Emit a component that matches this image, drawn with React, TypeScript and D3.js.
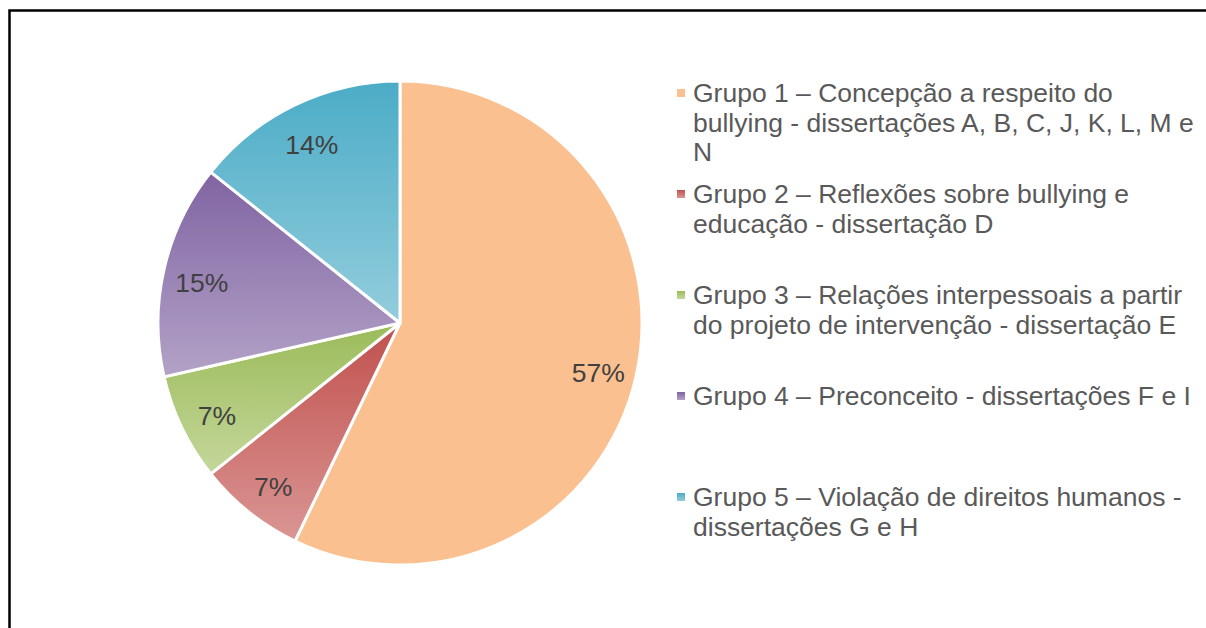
import { useEffect, useRef } from "react";
import * as d3 from "d3";

// número de dissertações por grupo (14 no total)
const groups = ["Grupo 1", "Grupo 2", "Grupo 3", "Grupo 4", "Grupo 5"];
const counts = [8, 1, 1, 2, 2];
const pctLabels = ["57%", "7%", "7%", "15%", "14%"];
const legendLines = [
  ["Grupo 1 – Concepção a respeito do", "bullying - dissertações A, B, C, J, K, L, M e", "N"],
  ["Grupo 2 – Reflexões sobre bullying e", "educação - dissertação D"],
  ["Grupo 3 – Relações interpessoais a partir", "do projeto de intervenção - dissertação E"],
  ["Grupo 4 – Preconceito - dissertações F e I"],
  ["Grupo 5 – Violação de direitos humanos -", "dissertações G e H"],
];
const topColors = ["#fac090", "#c0504d", "#9bbb59", "#8064a2", "#4bacc6"];
const bottomColors = ["#fac090", "#da9694", "#c4d79b", "#b3a2c7", "#93cddd"];

export default function App() {
  const ref = useRef<SVGSVGElement>(null);

  useEffect(() => {
    const svg = d3.select(ref.current);
    svg.selectAll("*").remove();

    const W = 1206, H = 628;
    const cx = 400, cy = 323, R = 242;
    const font = "'Liberation Sans', Arial, sans-serif";

    // moldura
    svg.append("path")
      .attr("d", `M9.5,${H} V10.5 H${W}`)
      .attr("fill", "none")
      .attr("stroke", "#000")
      .attr("stroke-width", 2.5);

    const defs = svg.append("defs");
    groups.forEach((g, i) => {
      const grad = defs.append("linearGradient")
        .attr("id", "grad" + i)
        .attr("x1", 0).attr("y1", 0).attr("x2", 0).attr("y2", 1);
      grad.append("stop").attr("offset", "0%").attr("stop-color", topColors[i]);
      grad.append("stop").attr("offset", "100%").attr("stop-color", bottomColors[i]);
    });

    const pie = d3.pie<number>().sort(null).value(d => d);
    const arcs = pie(counts);
    const arc = d3.arc<d3.PieArcDatum<number>>().innerRadius(0).outerRadius(R);
    const labelArc = d3.arc<d3.PieArcDatum<number>>().innerRadius(R * 0.84).outerRadius(R * 0.84);

    const g = svg.append("g").attr("transform", `translate(${cx},${cy})`);
    g.selectAll("path.slice")
      .data(arcs)
      .join("path")
      .attr("class", "slice")
      .attr("d", arc)
      .attr("fill", (d, i) => `url(#grad${i})`)
      .attr("stroke", "#fff")
      .attr("stroke-width", 3)
      .attr("stroke-linejoin", "round");

    g.selectAll("text.lbl")
      .data(arcs)
      .join("text")
      .attr("class", "lbl")
      .attr("x", d => labelArc.centroid(d)[0])
      .attr("y", d => labelArc.centroid(d)[1] + 5)
      .attr("text-anchor", "middle")
      .attr("dominant-baseline", "central")
      .attr("font-family", font)
      .attr("font-size", 26.5)
      .attr("fill", "#404040")
      .text((d, i) => pctLabels[i]);

    // legenda
    const ly = d3.scalePoint<string>().domain(groups).range([102, 506]);
    const lineH = 29.5;
    const leg = svg.append("g");
    groups.forEach((grp, i) => {
      const y0 = ly(grp)!;
      leg.append("rect")
        .attr("x", 677).attr("y", y0 - 13)
        .attr("width", 8).attr("height", 8)
        .attr("fill", `url(#grad${i})`);
      const t = leg.append("text")
        .attr("font-family", font)
        .attr("font-size", 26.5)
        .attr("fill", "#595959");
      legendLines[i].forEach((line, j) => {
        t.append("tspan").attr("x", 693).attr("y", y0 + j * lineH).text(line);
      });
    });
  }, []);

  return (
    <svg ref={ref} width={1206} height={628}
      style={{ position: "fixed", left: 0, top: 0, background: "#fff" }} />
  );
}
